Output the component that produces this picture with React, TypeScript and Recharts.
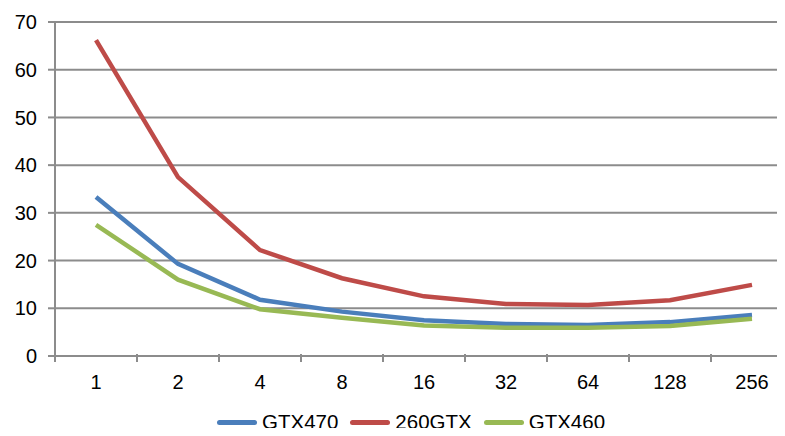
import { LineChart, Line, XAxis, YAxis, CartesianGrid, Legend } from 'recharts'

const BLOCKS = ['1', '2', '4', '8', '16', '32', '64', '128', '256']
const GTX470 = [33.3, 19.3, 11.8, 9.3, 7.5, 6.7, 6.5, 7.1, 8.6]
const GTX260 = [66.2, 37.5, 22.2, 16.3, 12.5, 10.9, 10.7, 11.7, 14.9]
const GTX460 = [27.5, 16.0, 9.8, 8.0, 6.4, 5.9, 5.9, 6.3, 7.8]
const Y_TICKS = [0, 10, 20, 30, 40, 50, 60, 70]

const data = BLOCKS.map((b, i) => ({ b, gtx470: GTX470[i], gtx260: GTX260[i], gtx460: GTX460[i] }))

const SERIES = [
  { key: 'gtx470', name: 'GTX470', color: '#4a7ebb' },
  { key: 'gtx260', name: '260GTX', color: '#be4b48' },
  { key: 'gtx460', name: 'GTX460', color: '#98b954' },
]

const GRID = '#8c8c8c'
const FONT = '"Liberation Sans", Arial, sans-serif'
const HALF_BAND = 41

function XTick(props: any) {
  const { x, y, payload, index } = props
  return (
    <g>
      <line x1={x - HALF_BAND} x2={x - HALF_BAND} y1={y - 10} y2={y - 2} stroke={GRID} strokeWidth={2} />
      {index === BLOCKS.length - 1 && (
        <line x1={x + HALF_BAND} x2={x + HALF_BAND} y1={y - 10} y2={y - 2} stroke={GRID} strokeWidth={2} />
      )}
      <text x={x} y={y + 25} textAnchor="middle" fill="#000" fontSize={20} fontFamily={FONT}>
        {payload.value}
      </text>
    </g>
  )
}

function LegendBox() {
  return (
    <div style={{ display: 'flex', alignItems: 'center', fontFamily: FONT, fontSize: 20.5, lineHeight: '22px', color: '#000', marginTop: 11 }}>
      {SERIES.map((s) => (
        <div key={s.key} style={{ display: 'flex', alignItems: 'center', marginRight: 12 }}>
          <span style={{ display: 'inline-block', width: 40, height: 5, borderRadius: 3, background: s.color, marginRight: 5 }} />
          <span>{s.name}</span>
        </div>
      ))}
    </div>
  )
}

export default function App() {
  return (
    <div style={{ margin: -8, width: 785, height: 436, overflow: 'hidden', background: '#fff' }}>
      <LineChart width={793} height={436} data={data} margin={{ top: 22, right: 0, bottom: 0, left: 0 }}>
        <CartesianGrid vertical={false} stroke={GRID} strokeWidth={2} />
        <XAxis
          dataKey="b"
          height={44}
          padding={{ left: HALF_BAND, right: HALF_BAND }}
          axisLine={{ stroke: GRID, strokeWidth: 2 }}
          tickLine={false}
          tick={<XTick />}
          interval={0}
        />
        <YAxis
          width={55}
          domain={[0, 70]}
          ticks={Y_TICKS}
          interval={0}
          axisLine={{ stroke: GRID, strokeWidth: 2 }}
          tickLine={{ stroke: GRID, strokeWidth: 2 }}
          tickSize={7}
          tickMargin={11}
          tick={{ fill: '#000', fontSize: 20, fontFamily: FONT }}
        />
        <Legend
          verticalAlign="bottom"
          height={36}
          content={<LegendBox />}
          wrapperStyle={{ left: 217, width: 'auto', height: 36, overflow: 'visible' }}
        />
        {SERIES.map((s) => (
          <Line
            key={s.key}
            type="linear"
            dataKey={s.key}
            name={s.name}
            stroke={s.color}
            strokeWidth={4.5}
            dot={false}
            isAnimationActive={false}
          />
        ))}
      </LineChart>
    </div>
  )
}
